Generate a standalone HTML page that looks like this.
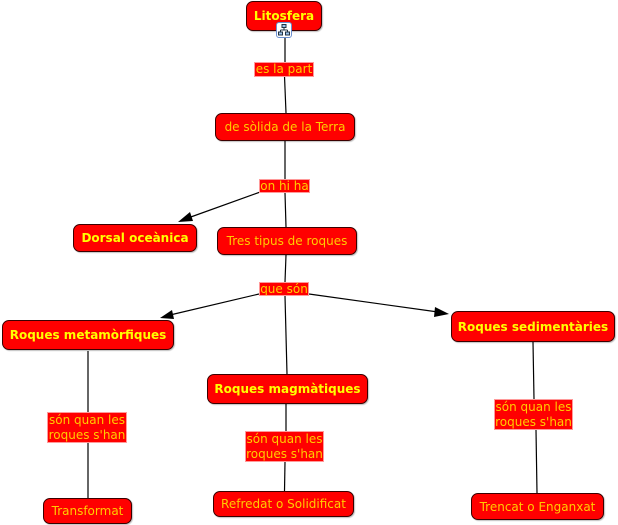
<!DOCTYPE html>
<html><head><meta charset="utf-8"><style>
html,body{margin:0;padding:0;background:#fff;}
body{width:618px;height:525px;position:relative;overflow:hidden;font-family:"DejaVu Sans","Liberation Sans",sans-serif;}
.n{position:absolute;box-sizing:border-box;background:#ff0000;border:1px solid #3a0000;border-radius:7px;display:flex;align-items:center;justify-content:center;font-size:12px;color:#ffcc00;white-space:nowrap;box-shadow:1px 1px 1px rgba(0,0,0,0.25);}
.b{font-weight:bold;color:#ffff00;}
.l{position:absolute;box-sizing:border-box;background:#ff0000;border:1px solid #ff9a9a;font-size:12px;color:#ffcc00;text-align:center;line-height:15px;white-space:nowrap;display:flex;align-items:center;justify-content:center;}
svg{position:absolute;left:0;top:0;}
</style></head><body>
<svg width="618" height="525">
<g stroke="#000" stroke-width="1.2" fill="none">
<line x1="285" y1="38" x2="285" y2="62"/>
<line x1="284.5" y1="76" x2="286" y2="113"/>
<line x1="285" y1="141" x2="285" y2="179"/>
<line x1="285" y1="193" x2="286" y2="227"/>
<line x1="263" y1="191" x2="188" y2="218"/>
<line x1="286" y1="255" x2="285" y2="282"/>
<line x1="259" y1="294" x2="170" y2="315"/>
<line x1="309" y1="294" x2="438" y2="312"/>
<line x1="285" y1="296" x2="287" y2="374"/>
<line x1="88" y1="351" x2="88" y2="412"/>
<line x1="88" y1="443" x2="88" y2="498"/>
<line x1="286" y1="404" x2="286" y2="431"/>
<line x1="285" y1="462" x2="284.5" y2="491"/>
<line x1="533" y1="342" x2="534" y2="399"/>
<line x1="536" y1="430" x2="537" y2="493"/>
</g>
<g fill="#000">
<polygon points="178,222 190,212 193,221"/>
<polygon points="160,318 172,310 174,319"/>
<polygon points="449,314 435,307 434,317"/>
</g>
</svg>

<div class="n b" style="left:246px;top:1px;width:76px;height:30px;">Litosfera</div>
<div style="position:absolute;left:276px;top:22px;width:16px;height:16px;box-sizing:border-box;background:#fff;border:1px solid #6a8fd0;border-radius:3px;">
<svg width="14" height="14" style="position:absolute;left:0;top:0"><g stroke="#234" stroke-width="1" fill="#9cc3ec"><rect x="5" y="1.5" width="4" height="3"/><rect x="1.5" y="9" width="4" height="3"/><rect x="8.5" y="9" width="4" height="3"/><path d="M7 4.5V7M3.5 7H10.5M3.5 7V9M10.5 7V9" fill="none"/></g></svg>
</div>
<div class="l" style="left:254px;top:62px;width:60px;height:15px;">es la part</div>
<div class="n" style="left:215px;top:113px;width:140px;height:28px;">de sòlida de la Terra</div>
<div class="l" style="left:259px;top:179px;width:51px;height:14px;">on hi ha</div>
<div class="n b" style="left:73px;top:224px;width:124px;height:28px;">Dorsal oceànica</div>
<div class="n" style="left:217px;top:227px;width:140px;height:28px;">Tres tipus de roques</div>
<div class="l" style="left:259px;top:282px;width:50px;height:14px;">que són</div>
<div class="n b" style="left:2px;top:320px;width:172px;height:30px;">Roques metamòrfiques</div>
<div class="n b" style="left:207px;top:374px;width:161px;height:30px;">Roques magmàtiques</div>
<div class="n b" style="left:451px;top:311px;width:164px;height:31px;">Roques sedimentàries</div>
<div class="l" style="left:47px;top:412px;width:80px;height:31px;">són quan les<br>roques s'han</div>
<div class="l" style="left:245px;top:431px;width:79px;height:31px;">són quan les<br>roques s'han</div>
<div class="l" style="left:494px;top:399px;width:79px;height:31px;">són quan les<br>roques s'han</div>
<div class="n" style="left:43px;top:498px;width:89px;height:26px;">Transformat</div>
<div class="n" style="left:213px;top:491px;width:141px;height:26px;">Refredat o Solidificat</div>
<div class="n" style="left:471px;top:493px;width:133px;height:27px;">Trencat o Enganxat</div>
</body></html>
